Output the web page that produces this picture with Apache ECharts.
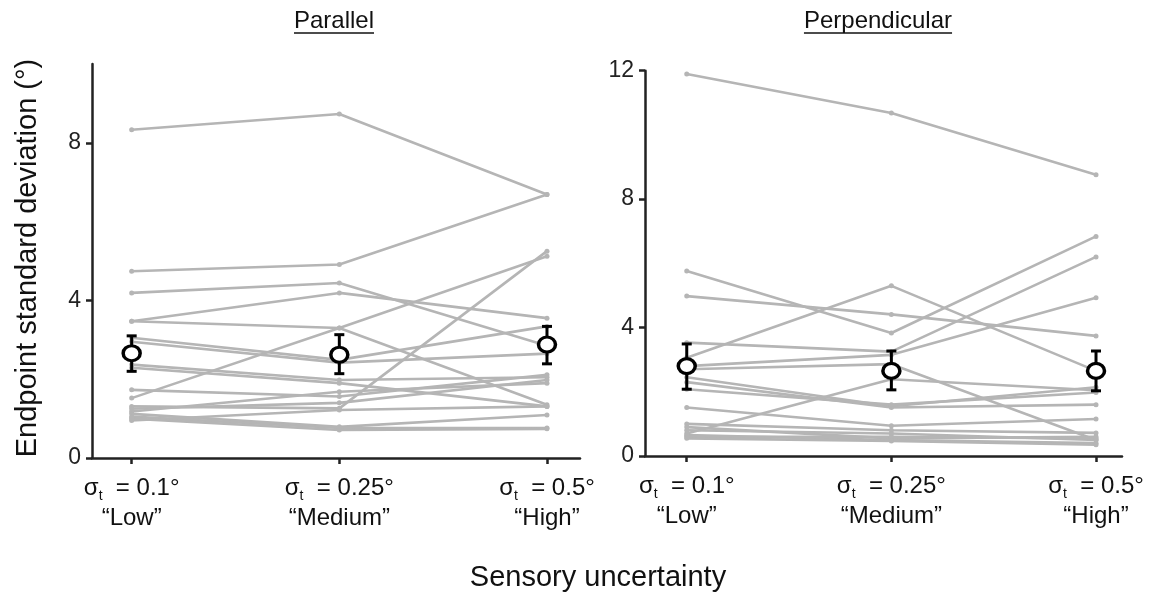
<!DOCTYPE html>
<html><head><meta charset="utf-8">
<script src="https://cdn.jsdelivr.net/npm/echarts@6/dist/echarts.min.js"></script>
<style>html,body{margin:0;padding:0;background:#fff}#c{width:1160px;height:596px}</style>
</head><body><div id="c"></div>
<script>
// ---- data ----
var xPositions = [1, 2, 3];
var sigmaLabels = ['0.1', '0.25', '0.5'];
var levelLabels = ['Low', 'Medium', 'High'];
var panelTitles = ['Parallel', 'Perpendicular'];
var yTicksLeft = [0, 4, 8];
var yTicksRight = [0, 4, 8, 12];

// Parallel: each subject [Low, Medium, High]
var parallelSubjects = [
  [8.33, 8.73, 6.69],
  [4.74, 4.91, 6.69],
  [4.19, 4.44, 2.85],
  [3.47, 4.19, 3.55],
  [3.47, 3.30, 1.35],
  [1.52, 3.30, 5.12],
  [3.05, 2.49, 3.34],
  [2.95, 2.42, 2.65],
  [2.37, 1.98, 2.05],
  [2.29, 1.90, 1.31],
  [1.73, 1.56, 2.11],
  [1.31, 1.26, 5.25],
  [1.25, 1.40, 1.98],
  [1.18, 1.68, 1.90],
  [1.12, 0.79, 1.09],
  [1.05, 0.76, 0.76],
  [0.95, 1.22, 1.31],
  [1.00, 0.71, 0.74]
];
var parallelMean = [2.66, 2.62, 2.88];
var parallelErrLow = [2.20, 2.14, 2.39];
var parallelErrHigh = [3.10, 3.13, 3.34];

// Perpendicular
var perpSubjects = [
  [11.9, 10.68, 8.76],
  [5.76, 3.83, 6.84],
  [4.98, 4.41, 3.74],
  [3.06, 5.30, 2.65],
  [3.53, 3.25, 6.20],
  [2.80, 3.15, 4.93],
  [2.70, 2.86, 0.50],
  [2.45, 1.55, 2.14],
  [2.30, 1.51, 1.60],
  [2.08, 1.60, 1.98],
  [1.51, 0.94, 1.15],
  [0.70, 2.39, 2.05],
  [1.00, 0.80, 0.72],
  [0.90, 0.55, 0.60],
  [0.80, 0.70, 0.50],
  [0.65, 0.50, 0.40],
  [0.60, 0.60, 0.55],
  [0.55, 0.47, 0.35]
];
var perpMean = [2.80, 2.65, 2.65];
var perpErrLow = [2.08, 2.06, 2.03];
var perpErrHigh = [3.49, 3.27, 3.27];

// ---- chart ----
var FONT = '"Liberation Sans", Arial, Helvetica, sans-serif';
var chart = echarts.init(document.getElementById('c'), null, {renderer: 'canvas'});

function xLabelFmt(v) {
  var i = Math.round(v) - 1;
  return '{a|σ}{b|t}{a|  = ' + sigmaLabels[i] + '°}\n{c|“' + levelLabels[i] + '”}';
}
var richX = {
  a: {fontSize: 24, fontFamily: FONT, color: '#111', lineHeight: 30},
  b: {fontSize: 14, fontFamily: FONT, color: '#111', lineHeight: 30, verticalAlign: 'bottom', padding: [18, 0, 0, 0]},
  c: {fontSize: 24, fontFamily: FONT, color: '#111', lineHeight: 30}
};
function xAxis(gi, min, max) {
  return {
    type: 'value', gridIndex: gi, min: min, max: max,
    splitLine: {show: false},
    axisLine: {show: true, lineStyle: {color: '#222', width: 2.5}},
    axisTick: {show: true, customValues: xPositions, length: 6, lineStyle: {color: '#222', width: 2.5}},
    axisLabel: {customValues: xPositions, formatter: xLabelFmt, rich: richX, margin: 15, align: 'center'}
  };
}
function yAxis(gi, max, ticks) {
  return {
    type: 'value', gridIndex: gi, min: 0, max: max,
    splitLine: {show: false},
    axisLine: {show: true, onZero: false, lineStyle: {color: '#222', width: 2.5}},
    axisTick: {show: true, customValues: ticks, length: 6, lineStyle: {color: '#222', width: 2.5}},
    axisLabel: {customValues: ticks, fontSize: 23, fontFamily: FONT, color: '#222', margin: 11}
  };
}

var series = [];
function addPanel(gi, subjects, mean, lo, hi) {
  subjects.forEach(function (s) {
    series.push({
      type: 'line', xAxisIndex: gi, yAxisIndex: gi,
      data: s.map(function (v, i) { return [xPositions[i], v]; }),
      symbol: 'circle', symbolSize: 5, showSymbol: true,
      lineStyle: {color: '#b5b5b5', width: 2.6},
      itemStyle: {color: '#b5b5b5'},
      silent: true, animation: false, z: 2
    });
  });
  series.push({
    type: 'custom', xAxisIndex: gi, yAxisIndex: gi, z: 5, animation: false,
    data: mean.map(function (m, i) { return [xPositions[i], lo[i], hi[i]]; }),
    renderItem: function (params, api) {
      var x = api.value(0);
      var p1 = api.coord([x, api.value(1)]);
      var p2 = api.coord([x, api.value(2)]);
      var cw = 5;
      var st = {stroke: '#000', lineWidth: 3};
      return {type: 'group', children: [
        {type: 'line', shape: {x1: p1[0], y1: p1[1], x2: p2[0], y2: p2[1]}, style: st},
        {type: 'line', shape: {x1: p1[0] - cw, y1: p1[1], x2: p1[0] + cw, y2: p1[1]}, style: st},
        {type: 'line', shape: {x1: p2[0] - cw, y1: p2[1], x2: p2[0] + cw, y2: p2[1]}, style: st}
      ]};
    }
  });
  series.push({
    type: 'scatter', xAxisIndex: gi, yAxisIndex: gi, z: 6, animation: false,
    data: mean.map(function (m, i) { return [xPositions[i], m]; }),
    symbol: 'circle', symbolSize: [17, 15],
    itemStyle: {color: '#fff', borderColor: '#000', borderWidth: 3.3, opacity: 1}
  });
}
addPanel(0, parallelSubjects, parallelMean, parallelErrLow, parallelErrHigh);
addPanel(1, perpSubjects, perpMean, perpErrLow, perpErrHigh);

// underlined titles
var TITLE_FONT = '24px ' + FONT;
var ctx = document.createElement('canvas').getContext('2d');
ctx.font = TITLE_FONT;
function titleGraphic(text, cx, cy) {
  var w = ctx.measureText(text).width;
  return [
    {type: 'text', x: cx, y: cy, style: {text: text, font: TITLE_FONT, fill: '#111', align: 'center', verticalAlign: 'middle'}},
    {type: 'line', shape: {x1: cx - w / 2, y1: cy + 12, x2: cx + w / 2, y2: cy + 12}, style: {stroke: '#111', lineWidth: 1.5}}
  ];
}

chart.setOption({
  backgroundColor: '#fff',
  animation: false,
  grid: [
    {left: 92, top: 64, width: 488, height: 394},
    {left: 645, top: 70.7, width: 477, height: 385.3}
  ],
  xAxis: [xAxis(0, 0.809, 3.159), xAxis(1, 0.796, 3.127)],
  yAxis: [yAxis(0, 10, yTicksLeft), yAxis(1, 12, yTicksRight)],
  series: series,
  graphic: [].concat(
    titleGraphic(panelTitles[0], 334, 21),
    titleGraphic(panelTitles[1], 878, 21),
    [
      {type: 'text', x: 28, y: 258, rotation: Math.PI / 2, style: {text: 'Endpoint standard deviation (°)', font: '29px ' + FONT, fill: '#111', align: 'center', verticalAlign: 'middle'}},
      {type: 'text', x: 598, y: 578, style: {text: 'Sensory uncertainty', font: '29px ' + FONT, fill: '#111', align: 'center', verticalAlign: 'middle'}}
    ]
  )
});
</script></body></html>
